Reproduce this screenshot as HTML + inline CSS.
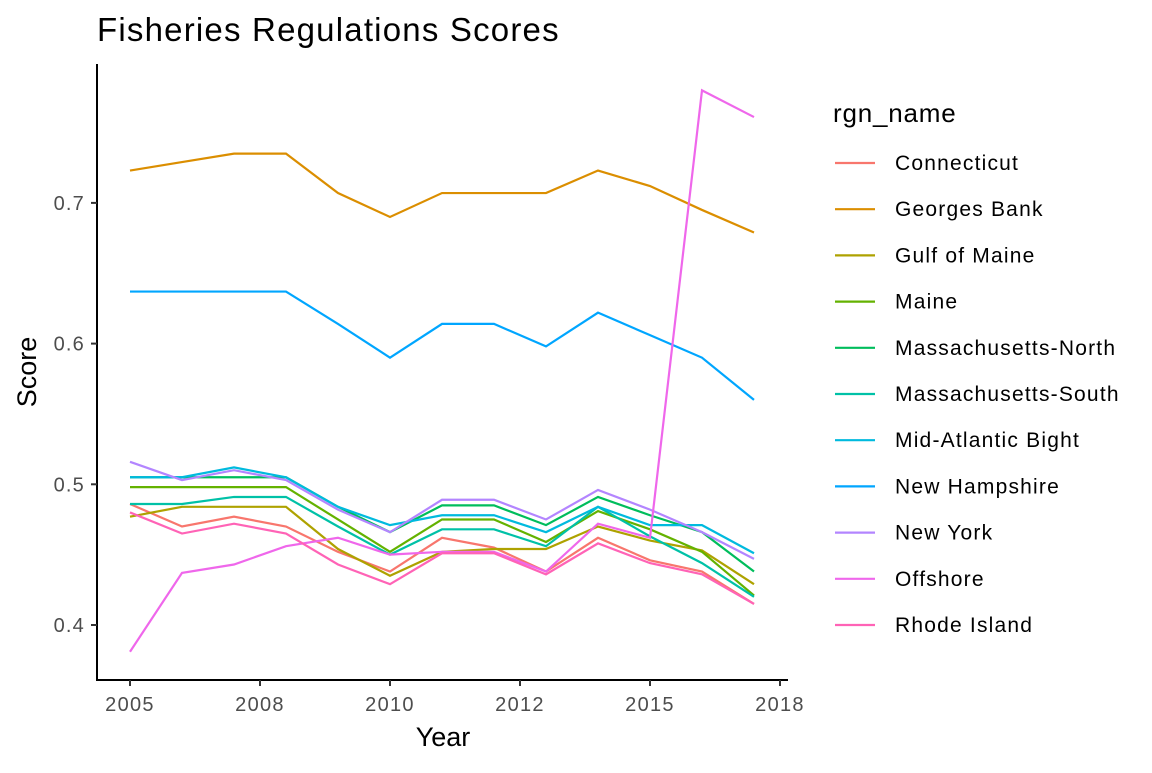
<!DOCTYPE html>
<html><head><meta charset="utf-8"><style>
body{margin:0;background:#fff;font-family:"Liberation Sans",sans-serif}
svg text{font-family:"Liberation Sans",sans-serif}
</style></head><body>
<svg id="chart" width="1152" height="768" xmlns="http://www.w3.org/2000/svg">
<text x="97" y="41" font-size="33" letter-spacing="1.2" fill="#000">Fisheries Regulations Scores</text>
<g id="plot"></g>
<g id="legend">
<text x="833" y="122" font-size="26" letter-spacing="0.8" fill="#000">rgn_name</text>
</g>
</svg>
<script>
const years=[2005,2006,2007,2008,2009,2010,2011,2012,2013,2014,2015,2016,2017];
const regions=["Connecticut","Georges Bank","Gulf of Maine","Maine","Massachusetts-North","Massachusetts-South","Mid-Atlantic Bight","New Hampshire","New York","Offshore","Rhode Island"];
const colors=["#F8766D","#DB8E00","#AEA200","#64B200","#00BD5C","#00C1A7","#00BADE","#00A6FF","#B385FF","#EF67EB","#FF63B6"];
const connecticut=[0.486,0.470,0.477,0.470,0.452,0.438,0.462,0.455,0.438,0.462,0.446,0.438,0.415];
const georgesBank=[0.723,0.729,0.735,0.735,0.707,0.690,0.707,0.707,0.707,0.723,0.712,0.695,0.679];
const gulfOfMaine=[0.477,0.484,0.484,0.484,0.454,0.435,0.452,0.454,0.454,0.470,0.460,0.453,0.429];
const maine=[0.498,0.498,0.498,0.498,0.475,0.452,0.475,0.475,0.459,0.481,0.468,0.452,0.421];
const massNorth=[0.505,0.505,0.505,0.505,0.484,0.466,0.485,0.485,0.471,0.491,0.478,0.466,0.438];
const massSouth=[0.486,0.486,0.491,0.491,0.470,0.450,0.468,0.468,0.456,0.484,0.463,0.444,0.420];
const midAtlantic=[0.505,0.505,0.512,0.505,0.484,0.471,0.478,0.478,0.466,0.484,0.471,0.471,0.451];
const newHampshire=[0.637,0.637,0.637,0.637,0.614,0.590,0.614,0.614,0.598,0.622,0.606,0.590,0.560];
const newYork=[0.516,0.503,0.510,0.503,0.482,0.466,0.489,0.489,0.475,0.496,0.482,0.466,0.447];
const offshore=[0.381,0.437,0.443,0.456,0.462,0.450,0.452,0.452,0.438,0.472,0.462,0.780,0.761];
const rhodeIsland=[0.480,0.465,0.472,0.465,0.443,0.429,0.451,0.451,0.436,0.458,0.444,0.436,0.415];
const series=[connecticut,georgesBank,gulfOfMaine,maine,massNorth,massSouth,midAtlantic,newHampshire,newYork,offshore,rhodeIsland];
const xTicks=[2005,2007.5,2010,2012.5,2015,2017.5];
const xTickLabels=["2005","2008","2010","2012","2015","2018"];
const yTicks=[0.4,0.5,0.6,0.7];
const yTickLabels=["0.4","0.5","0.6","0.7"];
const NS="http://www.w3.org/2000/svg";
const X=v=>130+52*(v-2005);
const Y=v=>625-(v-0.4)*1407;
const plot=document.getElementById('plot');
function mk(t,a,p){const e=document.createElementNS(NS,t);for(const k in a)e.setAttribute(k,a[k]);(p||plot).appendChild(e);return e;}
let e=mk('line',{x1:97,y1:64,x2:97,y2:681,stroke:'#000','stroke-width':2});


e=mk('line',{x1:96,y1:680,x2:788,y2:680,stroke:'#000','stroke-width':2});


yTicks.forEach((t,i)=>{
 mk('line',{x1:91,x2:97,y1:Y(t),y2:Y(t),stroke:'#333','stroke-width':2});
 const tx=mk('text',{x:85,y:Y(t)+7,'text-anchor':'end','font-size':20,'letter-spacing':1.2,fill:'#4d4d4d'});tx.textContent=yTickLabels[i];
 
 
});
xTicks.forEach((t,i)=>{
 mk('line',{x1:X(t),x2:X(t),y1:680,y2:686,stroke:'#333','stroke-width':2});
 const tx=mk('text',{x:X(t),y:711,'text-anchor':'middle','font-size':20,'letter-spacing':1.3,fill:'#4d4d4d'});tx.textContent=xTickLabels[i];
 
 
});
let at=mk('text',{x:443,y:746,'text-anchor':'middle','font-size':27,fill:'#000'});at.textContent='Year';


at=mk('text',{x:36,y:372,'text-anchor':'middle','font-size':27,fill:'#000',transform:'rotate(-90 36 372)'});at.textContent='Score';


const leg=document.getElementById('legend');
series.forEach((s,i)=>{
 const p=mk('polyline',{points:s.map((v,j)=>X(years[j])+','+Y(v)).join(' '),fill:'none',stroke:colors[i],'stroke-width':2.2});
 
 
 const y=163+46.2*i;
 const g=mk('g',{},leg);
 
 
 mk('line',{x1:835,x2:875,y1:y,y2:y,stroke:colors[i],'stroke-width':2.2},g);
 const t=mk('text',{x:895,y:y+7,'font-size':21,'letter-spacing':1.2,fill:'#000'},g);t.textContent=regions[i];
});
</script>
</body></html>
